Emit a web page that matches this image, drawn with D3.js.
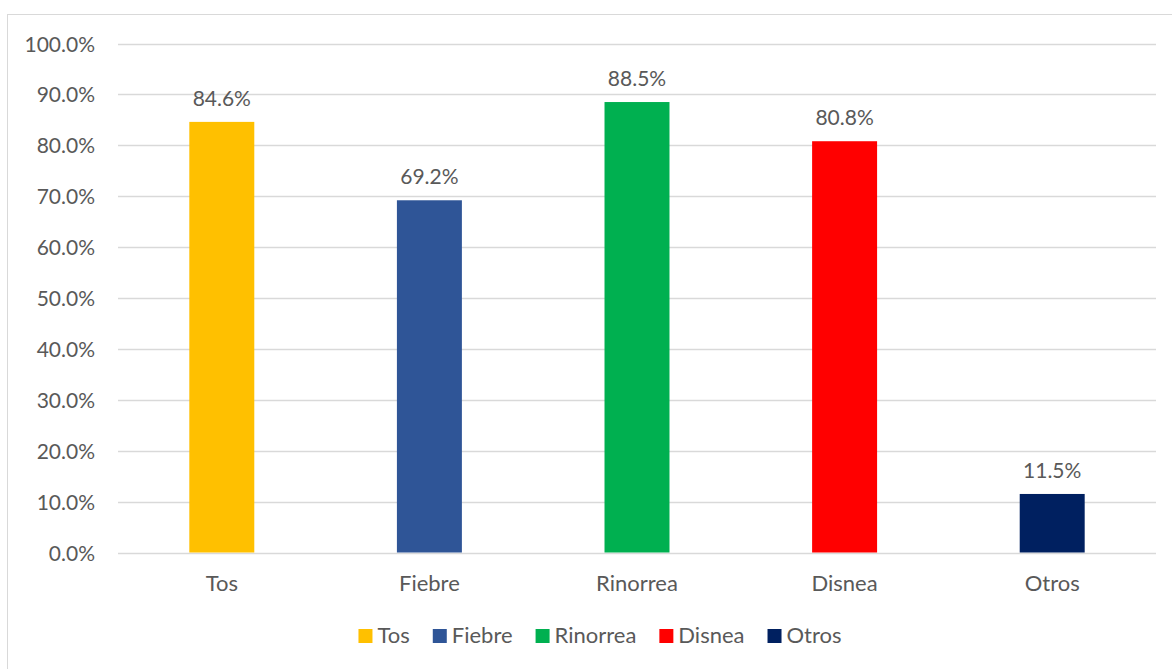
<!DOCTYPE html>
<html>
<head>
<meta charset="utf-8">
<script src="https://cdn.jsdelivr.net/npm/d3@7"></script>
<style>
  html, body { margin: 0; padding: 0; background: #ffffff; }
  svg { display: block; }
  text { font-family: Lato, "Open Sans", sans-serif; fill: #595959; }
</style>
</head>
<body>
<svg id="chart" width="1172" height="669"></svg>
<script>
// Symptom categories and the share of cases reporting each one
const categories = ["Tos", "Fiebre", "Rinorrea", "Disnea", "Otros"];
const values = [0.846, 0.692, 0.885, 0.808, 0.115];
const colors = ["#FFC000", "#2F5597", "#00B050", "#FF0000", "#002060"];
const yTicks = [0, 0.1, 0.2, 0.3, 0.4, 0.5, 0.6, 0.7, 0.8, 0.9, 1.0];

const svg = d3.select("#chart");
const W = 1172, H = 669;
const plot = { left: 118, right: 1156, top: 43.5, bottom: 552.5 };
const numSize = "21px", textSize = "22px";

// Chart frame
svg.append("rect")
  .attr("x", 7.5).attr("y", 14.5)
  .attr("width", W + 10).attr("height", H + 10)
  .attr("fill", "none").attr("stroke", "#d9d9d9").attr("stroke-width", 1);

const x = d3.scaleBand()
  .domain(categories)
  .range([plot.left, plot.right])
  .paddingInner(0.687)
  .paddingOuter(0.3435);

const y = d3.scaleLinear().domain([0, 1]).range([plot.bottom, plot.top]);
const fmt = d3.format(".1%");

// Horizontal gridlines
svg.append("g")
  .selectAll("line")
  .data(yTicks)
  .join("line")
  .attr("x1", plot.left).attr("x2", plot.right)
  .attr("y1", d => Math.round(y(d)) + 0.5)
  .attr("y2", d => Math.round(y(d)) + 0.5)
  .attr("stroke", "#d9d9d9").attr("stroke-width", 1.5);

// Y axis tick labels
const yAxis = d3.axisLeft(y).tickValues(yTicks).tickFormat(fmt).tickSize(0).tickPadding(0);
const ya = svg.append("g").attr("transform", `translate(95,0)`).call(yAxis);
ya.select(".domain").remove();
ya.selectAll("text")
  .style("font-family", "Lato, 'Open Sans', sans-serif")
  .style("font-size", numSize)
  .attr("fill", "#595959")
  .attr("dy", "0.36em");

// Bars
svg.append("g")
  .selectAll("rect")
  .data(categories)
  .join("rect")
  .attr("x", d => x(d))
  .attr("width", x.bandwidth())
  .attr("y", (d, i) => y(values[i]))
  .attr("height", (d, i) => y(0) - y(values[i]))
  .attr("fill", (d, i) => colors[i]);

// Value labels above bars
svg.append("g")
  .selectAll("text")
  .data(categories)
  .join("text")
  .attr("x", d => x(d) + x.bandwidth() / 2)
  .attr("y", (d, i) => y(values[i]) - 16)
  .attr("text-anchor", "middle")
  .style("font-size", numSize)
  .text((d, i) => fmt(values[i]));

// Category axis labels
const xAxis = d3.axisBottom(x).tickSize(0).tickPadding(0);
const xa = svg.append("g").attr("transform", `translate(0,${plot.bottom})`).call(xAxis);
xa.select(".domain").remove();
xa.selectAll("text")
  .style("font-family", "Lato, 'Open Sans', sans-serif")
  .style("font-size", textSize)
  .attr("fill", "#595959")
  .attr("dy", "0")
  .attr("y", 38);

// Legend
const legend = svg.append("g");
const items = legend.selectAll("g")
  .data(categories)
  .join("g");
items.append("rect")
  .attr("width", 14).attr("height", 14)
  .attr("y", 629)
  .attr("fill", (d, i) => colors[i]);
items.append("text")
  .attr("x", 19).attr("y", 643)
  .style("font-size", textSize)
  .text(d => d);
// Lay items out horizontally, centred under the plot
let cursor = 0;
const offsets = [];
items.each(function () {
  const w = this.getBBox().width;
  offsets.push(cursor);
  cursor += w + 23;
});
const total = cursor - 23;
const start = (plot.left + plot.right) / 2 - total / 2 - 37;
items.attr("transform", (d, i) => `translate(${start + offsets[i]},0)`);
</script>
</body>
</html>
